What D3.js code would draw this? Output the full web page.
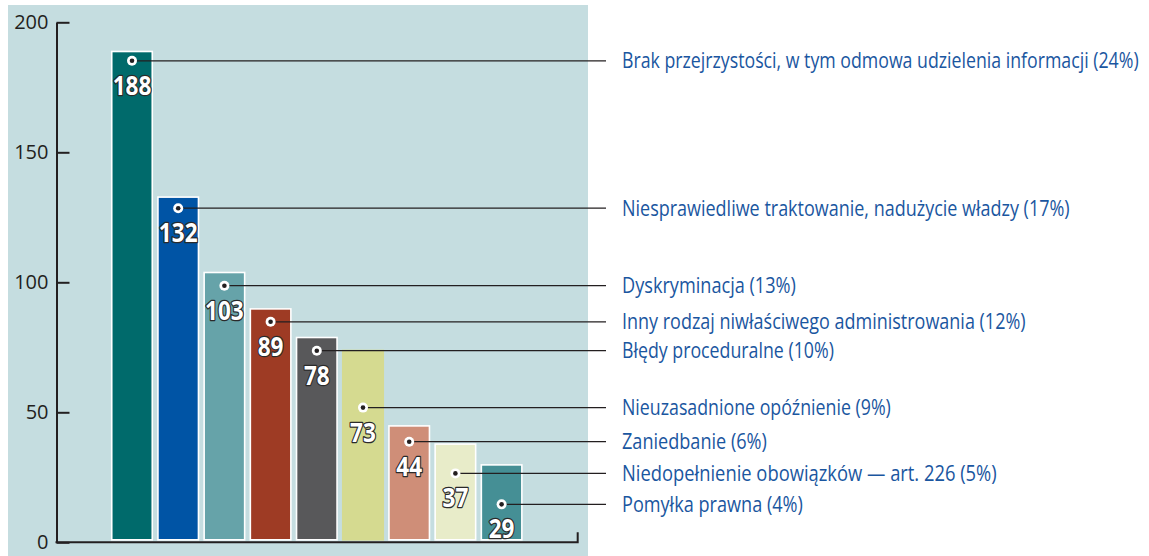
<!DOCTYPE html>
<html><head><meta charset="utf-8">
<script src="https://cdn.jsdelivr.net/npm/d3@7"></script>
<style>body{margin:0;background:#fff;} svg{display:block;}</style>
</head><body>
<svg id="c" width="1149" height="556"></svg>
<script>
const categories = [
  "Brak przejrzystości, w tym odmowa udzielenia informacji (24%)",
  "Niesprawiedliwe traktowanie, nadużycie władzy (17%)",
  "Dyskryminacja (13%)",
  "Inny rodzaj niwłaściwego administrowania (12%)",
  "Błędy proceduralne (10%)",
  "Nieuzasadnione opóźnienie (9%)",
  "Zaniedbanie (6%)",
  "Niedopełnienie obowiązków — art. 226 (5%)",
  "Pomyłka prawna (4%)"
];
const values = [188, 132, 103, 89, 78, 73, 44, 37, 29];
const colors = ["#006a6b", "#0054a5", "#66a3a9", "#9e3b24", "#58585a", "#d5da90", "#cf8e78", "#e8ecc9", "#458f95"];
const bordered = [true, true, true, true, true, false, true, true, true];
// leader line level for each bar, in data units
const leaderAt = [185.2, 128.5, 98.7, 84.8, 73.7, 51.8, 38.7, 26.5, 14.6];
// measured label widths (condensed face emulation)
const labelWidths = [517, 448, 174, 404, 212, 269, 145, 375, 181];
const yTicks = [0, 50, 100, 150, 200];

const svg = d3.select("#c");
const font = "'Open Sans', 'Noto Sans', sans-serif";

// background panel
svg.append("rect").attr("x", 8).attr("y", 5).attr("width", 580).attr("height", 551).attr("fill", "#c5dde0");

const y = d3.scaleLinear().domain([0, 200]).range([542.3, 22.3]);
const x = d3.scaleBand().domain(categories).range([108.9, 524.7]).paddingInner(0.123).paddingOuter(0.0615);
const axisX = 56.5;

// bars
svg.append("g").selectAll("rect").data(values).join("rect")
  .attr("x", (d, i) => x(categories[i]))
  .attr("width", x.bandwidth())
  .attr("y", d => y(d) - 2)
  .attr("height", d => y(0) - 2.5 - (y(d) - 2))
  .attr("fill", (d, i) => colors[i])
  .attr("stroke", (d, i) => bordered[i] ? "#ffffff" : colors[i])
  .attr("stroke-width", 1.6);

// y axis
const yAxis = d3.axisLeft(y).tickValues(yTicks).tickSizeInner(-13).tickSizeOuter(0).tickPadding(8);
const gy = svg.append("g").attr("transform", `translate(${axisX},0)`).call(yAxis);
gy.select(".domain").attr("stroke", "#231f20").attr("stroke-width", 2);
gy.selectAll(".tick line").attr("stroke", "#231f20").attr("stroke-width", 2);
gy.selectAll(".tick text").attr("font-family", font).attr("font-size", 20).attr("fill", "#231f20");

// x baseline with right end tick
const xEnd = x.range()[1] + 53;
svg.append("path")
  .attr("d", `M${axisX - 1},${y(0)}H${xEnd}V${y(0) - 10}`)
  .attr("fill", "none").attr("stroke", "#231f20").attr("stroke-width", 2);

// leader lines, dots, value labels, category labels
const lineEnd = 606, labelX = 622;
const g = svg.append("g");
values.forEach((v, i) => {
  const cx = x(categories[i]) + x.bandwidth() / 2;
  const cy = y(leaderAt[i]);
  g.append("line").attr("x1", cx).attr("x2", lineEnd).attr("y1", cy).attr("y2", cy)
    .attr("stroke", "#231f20").attr("stroke-width", 1.3);
  g.append("circle").attr("cx", cx).attr("cy", cy).attr("r", 5).attr("fill", "#ffffff");
  g.append("circle").attr("cx", cx).attr("cy", cy).attr("r", 2.3).attr("fill", "#231f20");
  const s = String(v);
  const vt = g.append("text")
    .attr("text-anchor", "middle")
    .attr("font-family", font).attr("font-weight", 700).attr("font-size", 27)
    .attr("fill", "#ffffff").attr("stroke", "#2a2a2a").attr("stroke-width", 2.6)
    .attr("paint-order", "stroke").attr("stroke-linejoin", "round")
    .text(s);
  const vw = vt.node().getComputedTextLength();
  vt.attr("transform", `translate(${cx},${cy + 34}) scale(${(12.9 * s.length) / vw},1)`);
  const lt = g.append("text")
    .attr("font-family", font).attr("font-size", 22).attr("font-weight", 500)
    .attr("fill", "#1a56a0")
    .text(categories[i]);
  const lw = lt.node().getComputedTextLength();
  lt.attr("transform", `translate(${labelX},${cy + 7.5}) scale(${labelWidths[i] / lw},1)`);
});
</script>
</body></html>
